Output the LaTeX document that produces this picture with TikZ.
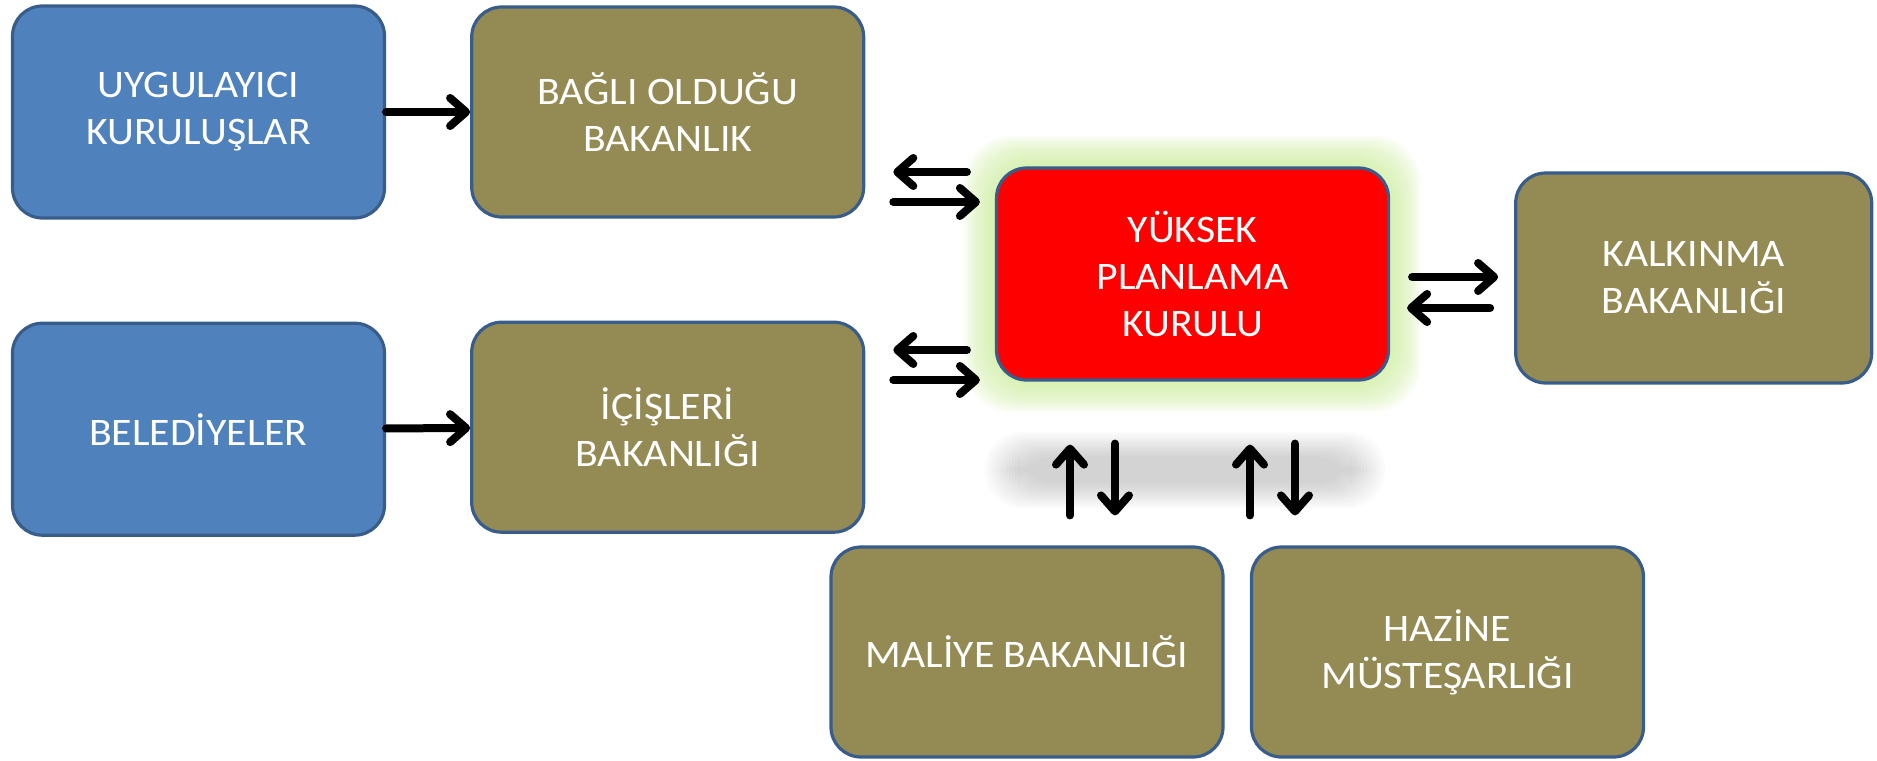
\documentclass[tikz,border=0pt]{standalone}
\usepackage{fontspec}
\setmainfont{Carlito}[FakeStretch=1.07]
\usepackage{xcolor}
\usetikzlibrary{arrows.meta, positioning, backgrounds}

\definecolor{kurummavi}{RGB}{79,129,189}
\definecolor{bakanlikyesil}{RGB}{148,138,84}
\definecolor{kenarmavi}{RGB}{56,93,138}
\definecolor{parlama}{RGB}{200,235,150}

\begin{document}
\begin{tikzpicture}[
  x=0.5pt, y=-0.5pt,
  kutu/.style={draw=kenarmavi, line width=1.6pt, rounded corners=15pt, text=white,
    align=center, font=\fontsize{19.5}{23.5}\selectfont, inner sep=0pt},
  kurum/.style={kutu, fill=kurummavi, minimum width=186pt, minimum height=106pt},
  bakanlik/.style={kutu, fill=bakanlikyesil, minimum width=196pt, minimum height=105pt},
  kurul/.style={kutu, fill=red, minimum width=196pt, minimum height=106pt},
  ok/.style={line width=4pt, line cap=round, -{Straight Barb[length=8pt, width=14pt, round]}}
]
\useasboundingbox (0,0) rectangle (1877,760);

\node[kurum] (uyg) at (198.5,112) {UYGULAYICI\\KURULUŞLAR};
\node[bakanlik, right=42pt of uyg] (bagli) {BAĞLI OLDUĞU\\BAKANLIK};
\node[kurum, below=51pt of uyg] (bel) {BELEDİYELER};
\node[bakanlik, below=51pt of bagli] (icis) {İÇİŞLERİ\\BAKANLIĞI};
\node[kurul] (ypk) at (1192.5,274) {YÜKSEK\\PLANLAMA\\KURULU};
\node[bakanlik, minimum width=178pt, right=62pt of ypk, yshift=-2pt] (kalk) {KALKINMA\\BAKANLIĞI};
\node[bakanlik] (mal) at (1027,652) {MALİYE BAKANLIĞI};
\node[bakanlik] (haz) at (1447.5,652) {HAZİNE\\MÜSTEŞARLIĞI};

% parlama ve golge
\begin{pgfonlayer}{background}
  \foreach \d in {1,3,...,31}
    \fill[parlama, opacity=0.08, rounded corners=24pt]
      ([shift={(-\d pt*0.5,-\d pt*0.5)}]ypk.south west) rectangle ([shift={(\d pt*0.5,\d pt*0.5)}]ypk.north east);
  \foreach \d in {0,3,...,33}
    \fill[black, opacity=0.016, rounded corners=18pt]
      (985+\d,432+0.75*\d) rectangle (1385-\d,508-0.75*\d);
\end{pgfonlayer}

\draw[ok] (uyg) -- (bagli);
\draw[ok] (bel) -- (icis);

\draw[ok, shorten <=14pt, shorten >=14pt] (ypk.west |- 0,172) -- (bagli.east |- 0,172);
\draw[ok, shorten <=14pt, shorten >=7.5pt] (bagli.east |- 0,202) -- (ypk.west |- 0,202);
\draw[ok, shorten <=14pt, shorten >=14pt] (ypk.west |- 0,350) -- (icis.east |- 0,350);
\draw[ok, shorten <=14pt, shorten >=7.5pt] (icis.east |- 0,380) -- (ypk.west |- 0,380);

\draw[ok, shorten <=11pt, shorten >=8pt] (ypk.east |- 0,277) -- (kalk.west |- 0,277);
\draw[ok, shorten <=12pt, shorten >=8.5pt] (kalk.west |- 0,308) -- (ypk.east |- 0,308);

\draw[ok, shorten <=15pt, shorten >=31.5pt] (mal.north -| 1070,0) -- (ypk.south -| 1070,0);
\draw[ok, shorten <=31pt, shorten >=15pt] (ypk.south -| 1115,0) -- (mal.north -| 1115,0);
\draw[ok, shorten <=15pt, shorten >=31.5pt] (haz.north -| 1250,0) -- (ypk.south -| 1250,0);
\draw[ok, shorten <=31pt, shorten >=15pt] (ypk.south -| 1295,0) -- (haz.north -| 1295,0);
\end{tikzpicture}
\end{document}
